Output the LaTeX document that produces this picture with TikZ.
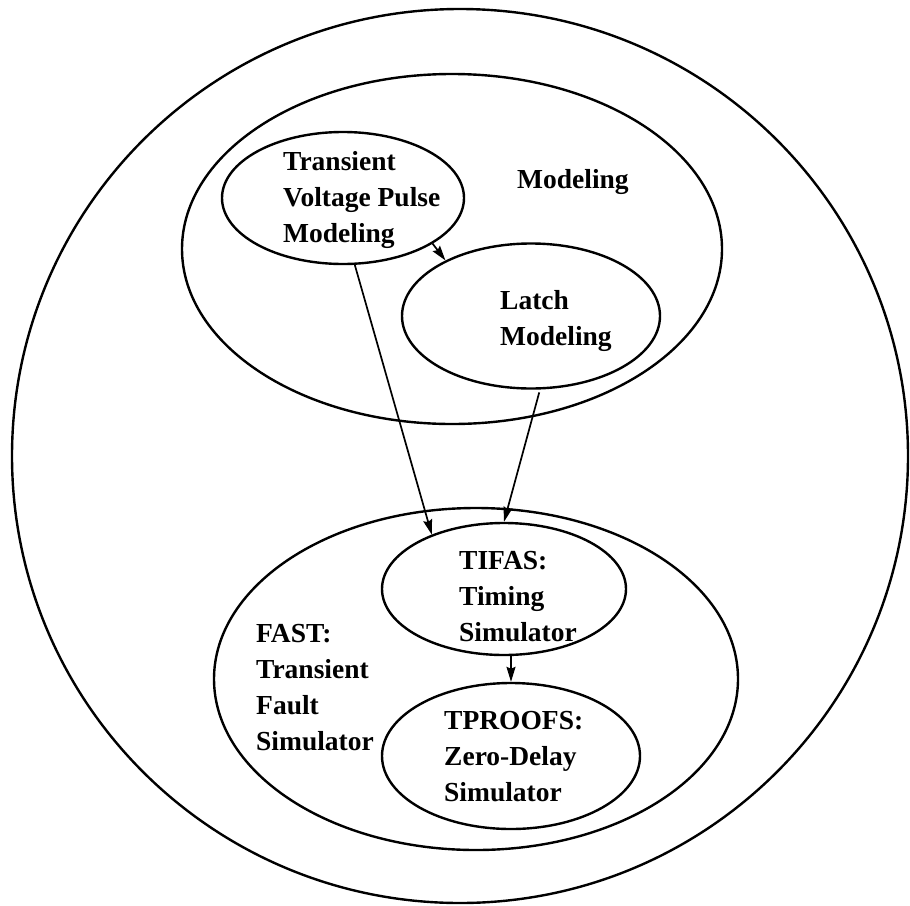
\documentclass[tikz,border=0pt]{standalone}
\usepackage{fontspec}
\setmainfont{Liberation Serif}
\usetikzlibrary{shapes.geometric,arrows.meta}
\newcommand\mylines[1]{\begin{tabular}[t]{@{}l@{}}#1\end{tabular}}
\begin{document}
\begin{tikzpicture}[x=1pt,y=-1pt,
  region/.style={draw, ellipse, line width=2.4pt, inner sep=0pt},
  lbl/.style={anchor=base west, inner sep=0pt, font=\fontsize{27.5}{36}\selectfont\bfseries},
  link/.style={line width=1.7pt, -{Stealth[length=15pt,width=9pt,inset=2pt]}}]
\useasboundingbox (0,0) rectangle (910,905);
\fill[white] (0,0) rectangle (910,905);
% regions
\node[region, minimum width=896pt, minimum height=894pt] (outer) at (460,456) {};
\node[region, minimum width=540pt, minimum height=350pt] (model) at (452,249) {};
\node[region, minimum width=242pt, minimum height=132pt] (tvp) at (343,198) {};
\node[region, minimum width=258pt, minimum height=145pt] (latch) at (531,316) {};
\node[region, minimum width=524pt, minimum height=342pt] (fast) at (476,679) {};
\node[region, minimum width=244pt, minimum height=132pt] (tifas) at (504,589) {};
\node[region, minimum width=258pt, minimum height=146pt] (tproofs) at (511,756) {};
% labels
\node[lbl] (tmodel) at (517,188) {Modeling};
\node[lbl] (ttvp) at (283,170) {\mylines{Transient\\Voltage Pulse\\Modeling}};
\node[lbl] (tlatch) at (500,309) {\mylines{Latch\\Modeling}};
\node[lbl] (tfast) at (256,642) {\mylines{FAST:\\Transient\\Fault\\Simulator}};
\node[lbl] (ttifas) at (459,569) {\mylines{TIFAS:\\Timing\\Simulator}};
\node[lbl] (ttproofs) at (444,729) {\mylines{TPROOFS:\\Zero-Delay\\Simulator}};
% connectors
\draw[link] (tvp.-27) -- (latch.147);
\draw[link] (tvp.-80) -- (tifas.143);
\draw[link, shorten <=3pt] (latch.-83) -- (tifas.north);
\draw[link] (tproofs.north |- tifas.south) -- (tproofs.north);
\end{tikzpicture}
\end{document}
